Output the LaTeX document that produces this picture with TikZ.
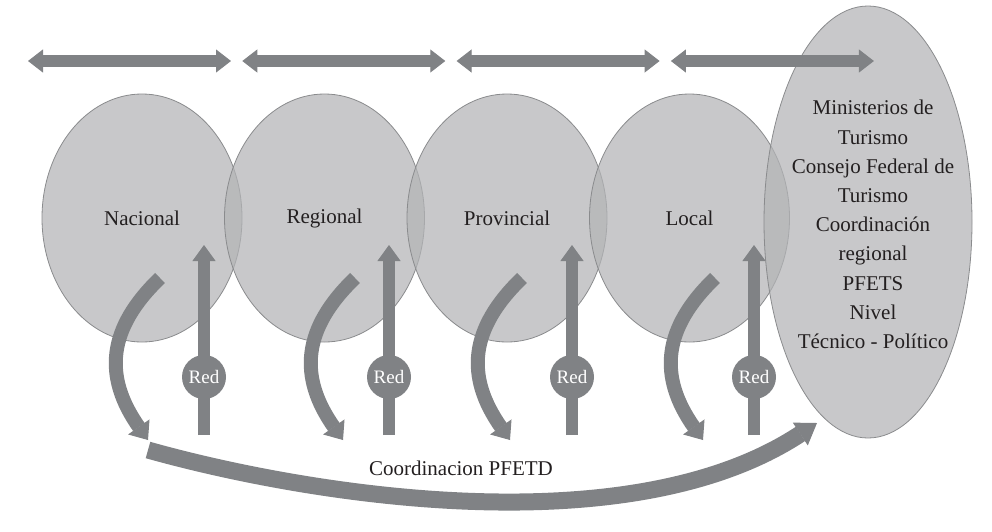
\documentclass[tikz,border=0pt]{standalone}
\usepackage{fontspec}
\setmainfont{Liberation Serif}
\usetikzlibrary{arrows.meta,shapes.geometric}
\definecolor{arrgray}{RGB}{128,130,133}
\definecolor{ellfill}{RGB}{179,180,182}
\definecolor{elledge}{RGB}{138,139,141}
\definecolor{txt}{RGB}{35,31,32}
\begin{document}
\begin{tikzpicture}[x=1pt,y=-1pt,
  ell/.style={ellipse, draw=elledge, line width=0.8pt, fill=ellfill, fill opacity=0.73,
    text opacity=1, text=txt, inner sep=0pt, minimum width=200pt, minimum height=248pt,
    font=\fontsize{21}{29.2}\selectfont},
  bigell/.style={ell, minimum width=208pt, minimum height=432pt},
  lbl/.style={text=txt, inner sep=0pt, align=center, font=\fontsize{21}{29.2}\selectfont},
  toparr/.style={arrgray, line width=12pt,
    {Triangle[width=23pt,length=15pt,line width=1pt]}-{Triangle[width=23pt,length=15pt,line width=1pt]}},
  varr/.style={arrgray, line width=12pt, -{Triangle[width=23pt,length=16pt,line width=1pt]}},
  carr/.style={arrgray, line width=14pt, -{Triangle[width=26pt,length=16pt,line width=1pt]}},
  barr/.style={arrgray, line width=17pt, -{Triangle[width=27pt,length=20pt,line width=1pt]}},
  redc/.style={circle, fill=arrgray, minimum size=44pt, inner sep=0pt, text=white,
    font=\fontsize{19}{19}\selectfont}
]
\useasboundingbox (0,0) rectangle (992,531);

% ellipses
\foreach \i/\lab in {0/Nacional,1/Regional,2/Provincial,3/Local}
  \node[ell] (e\i) at ({142+182.5*\i},218) {\lab};
\node[bigell] (big) at (868,222) {};
\node[lbl] (bigtext) at (873,224.5) {Ministerios de\\Turismo\\Consejo Federal de\\Turismo\\Coordinación\\regional\\PFETS\\Nivel\\Técnico - Político};

% top double arrows
\foreach \i in {0,...,3}{
  \coordinate (tl\i) at ({28+214.3*\i},61);
  \coordinate (tr\i) at ({231+214.3*\i},61);
  \draw[toparr] (tl\i) -- (tr\i);
}

% curved and vertical arrows with Red circles
\foreach \i/\cx/\vx in {0/160/204,1/355/389,2/522/572,3/715/754}{
  \coordinate (cs\i) at (\cx,278);
  \coordinate (ce\i) at ({\cx-12},440);
  \draw[carr] (cs\i) .. controls +(-52,50) and +(-45,-64) .. (ce\i);
  \coordinate (vb\i) at (\vx,435);
  \coordinate (vt\i) at (\vx,245);
  \draw[varr] (vb\i) -- (vt\i);
  \node[redc] (red\i) at (\vx,377) {Red};
}

% bottom coordination arrow
\coordinate (bs) at (148,450);
\coordinate (be) at (817,423);
\draw[barr] (bs) .. controls +(156.5,44) and +(-190,125) .. (be);
\node[lbl] (coord) at (461,468) {Coordinacion PFETD};
\end{tikzpicture}
\end{document}
